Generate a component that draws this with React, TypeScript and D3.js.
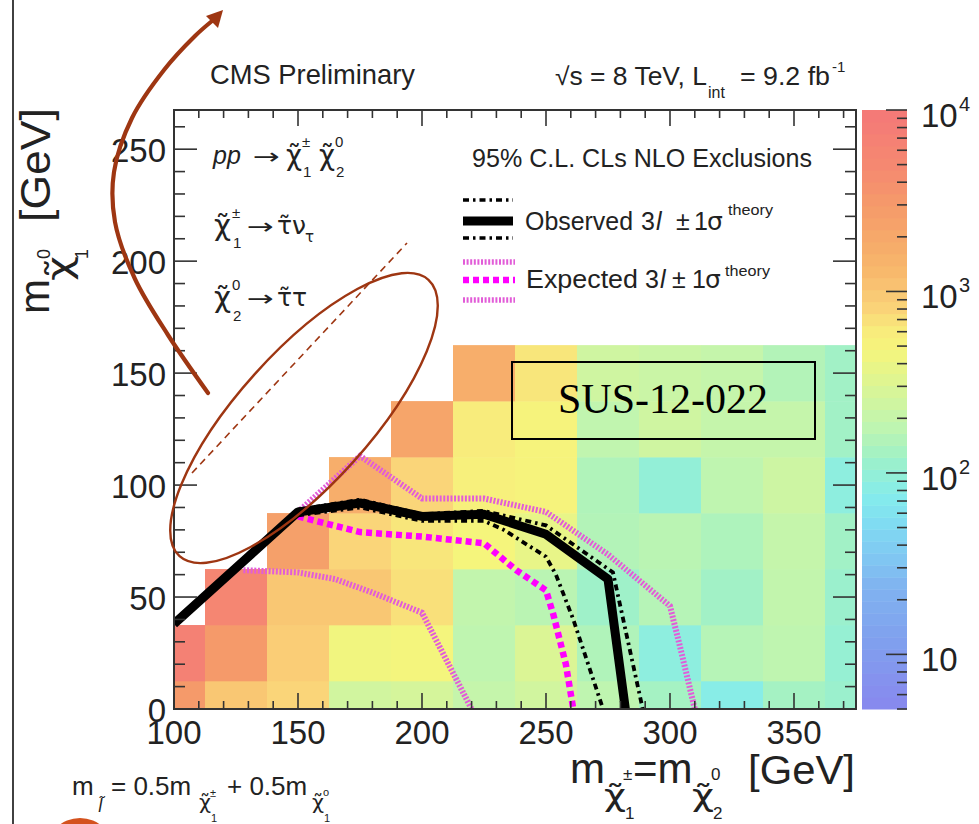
import React from "react";
import * as d3 from "d3";

// ---------------- data ----------------
const xBins = [100, 125, 150, 175, 200, 225, 250, 275, 300, 325, 350, 375];
const yBins = [0, 25, 50, 75, 100, 125, 150];
const binWidth = 25;
const xDomain = [100, 375];
const yDomain = [0, 267.5];
const zDomain = [5, 10000];

// heat-map values (one row per y bin, one entry per x bin, null = empty)
const rowY0 = [3000, 1000, 800, 250, 270, 200, 250, 180, 130, 80, 130, 115];
const rowY25 = [7000, 3000, 900, 450, 470, 180, 300, 150, 90, 160, 180, 105];
const rowY50 = [null, 5500, 1000, 1000, 700, 190, 170, 120, 160, 125, 190, 115];
const rowY75 = [null, null, 2500, 800, 650, 480, 380, 155, 170, 145, 200, 125];
const rowY100 = [null, null, null, 1700, 800, 550, 500, 150, 100, 180, 230, 90];
const rowY125 = [null, null, null, null, 2200, 600, 500, 185, 240, 200, 200, 125];
const rowY150 = [null, null, null, null, null, 1700, 650, 240, 220, 200, 155, 125];
const cellRows = [rowY0, rowY25, rowY50, rowY75, rowY100, rowY125, rowY150];

// exclusion contours [m_chargino, m_LSP]
const observed = [[100, 38], [150, 88], [175, 92], [200, 86], [225, 87], [250, 78], [275, 58], [282, 0]];
const observedUp = [[150, 89], [175, 93.5], [200, 87], [225, 88.5], [250, 82], [277, 61], [289, 0]];
const observedDown = [[150, 86.5], [175, 90], [200, 84], [225, 84], [233, 80], [250, 68], [254, 60], [261, 40], [273, 0]];
const expected = [[150, 86], [175, 79], [200, 77], [225, 74], [238, 62], [250, 53], [253, 42], [258, 20], [261, 0]];
const expectedUp = [[150, 88], [175, 113], [200, 94], [225, 94], [250, 88], [275, 69], [300, 46], [304, 28], [310, 0]];
const expectedDown = [[128, 62], [150, 61], [165, 58], [180, 52], [200, 43], [220, 0]];

const xTicks = [100, 150, 200, 250, 300, 350];
const yTicks = [0, 50, 100, 150, 200, 250];
const zTicks = [10, 100, 1000, 10000];
const zTickExp = ["", "2", "3", "4"];

const paletteValues = [5, 12, 24, 35, 53, 75, 110, 135, 180, 245, 330, 480, 600, 850, 1300, 1900, 3000, 4700, 10000];
const paletteColors = ["#8888ee", "#80a0ee", "#80b4f0", "#80c8f2", "#80dcf2", "#85ecec", "#98f0d0", "#a8f2c0", "#bff5b0", "#d0f5a0", "#e0f590", "#f5f57c", "#f8ec7c", "#fad078", "#f8b86c", "#f6aa6a", "#f59a6a", "#f58a70", "#f47878"];

// ---------------- layout ----------------
const W = 979, H = 824;
const P = { left: 174, right: 856, top: 110, bottom: 709 };
const CB = { left: 862, right: 907 };
const SANS = "'Liberation Sans', Arial, Helvetica, sans-serif";
const DJ = "'DejaVu Sans', 'Liberation Sans', sans-serif";
const SERIF = "'Liberation Serif', 'Times New Roman', serif";
const TXT = "#222";
const AXIS = "#333";
const ANNO = "#9e3612";
const CHI = "\u03C7\u0303";
const TAU = "\u03C4\u0303";

const xScale = d3.scaleLinear().domain(xDomain).range([P.left, P.right]);
const yScale = d3.scaleLinear().domain(yDomain).range([P.bottom, P.top]);
const zScale = d3.scaleLog().domain(zDomain).range([P.bottom, P.top]);
const color = d3.scaleLog<string>().domain(paletteValues).range(paletteColors).interpolate(d3.interpolateRgb).clamp(true);

const line = d3.line<number[]>().x(d => xScale(d[0])).y(d => yScale(d[1]));

type TP = { x: number; y: number; size: number; children: React.ReactNode; anchor?: string; italic?: boolean; family?: string; len?: number; fill?: string };
const T = ({ x, y, size, children, anchor, italic, family, len, fill }: TP) => (
  <text x={x} y={y} fontSize={size} textAnchor={anchor as any} fontStyle={italic ? "italic" : undefined}
    fontFamily={family || SANS} textLength={len} lengthAdjust={len ? "spacingAndGlyphs" : undefined} fill={fill || TXT}>
    {children}
  </text>
);

export default function App() {
  const cells: { x: number; y: number; w: number; h: number; c: string }[] = [];
  cellRows.forEach((row, ri) => {
    row.forEach((v, ci) => {
      if (v == null) return;
      const xc = xBins[ci], yc = yBins[ri];
      const x0 = Math.max(xDomain[0], xc - binWidth / 2), x1 = Math.min(xDomain[1], xc + binWidth / 2);
      const y0 = Math.max(yDomain[0], yc - binWidth / 2), y1 = Math.min(yDomain[1], yc + binWidth / 2);
      cells.push({ x: xScale(x0), y: yScale(y1), w: xScale(x1) - xScale(x0), h: yScale(y0) - yScale(y1), c: color(v) });
    });
  });

  // colour bar bands
  const nb = 50;
  const lz0 = Math.log10(zDomain[0]), lz1 = Math.log10(zDomain[1]);
  const bands = d3.range(nb).map(i => {
    const a = Math.pow(10, lz0 + (i / nb) * (lz1 - lz0));
    const b = Math.pow(10, lz0 + ((i + 1) / nb) * (lz1 - lz0));
    const m = Math.pow(10, lz0 + ((i + 0.5) / nb) * (lz1 - lz0));
    return { y: zScale(b), h: zScale(a) - zScale(b) + 0.5, c: color(m) };
  });
  const zMinor: { v: number; major: boolean }[] = [];
  for (let d = 0; d <= 4; d++) for (let m = 1; m <= 9; m++) {
    const v = m * Math.pow(10, d);
    if (v >= zDomain[0] && v <= zDomain[1]) zMinor.push({ v, major: m === 1 });
  }

  const xMinor = d3.range(110, 375, 10).filter(v => v % 50 !== 0);
  const yMinor = d3.range(10, 267, 10).filter(v => v % 50 !== 0);

  const arrowPts: [number, number][] = [[208, 393], [168, 335], [135, 279], [115, 222], [114, 172], [132, 118], [164, 70], [195, 36], [212, 21]];
  const arrowPath = d3.line().curve(d3.curveCatmullRom.alpha(0.5))(arrowPts) || "";

  return (
    <svg width={W} height={H} viewBox={`0 0 ${W} ${H}`} style={{ position: "absolute", left: 0, top: 0, background: "#fff" }}>
      <defs>
        <clipPath id="frame"><rect x={P.left} y={P.top} width={P.right - P.left} height={P.bottom - P.top} /></clipPath>
      </defs>
      <rect x={0} y={0} width={W} height={H} fill="#fff" />
      <line x1={13} y1={0} x2={13} y2={H} stroke="#111" strokeWidth={1.6} />

      {/* heat map */}
      <g>
        {cells.map((c, i) => <rect key={i} x={c.x} y={c.y} width={c.w + 0.3} height={c.h + 0.3} fill={c.c} />)}
      </g>

      {/* colour bar */}
      <g>
        {bands.map((b, i) => <rect key={i} x={CB.left} y={b.y} width={CB.right - CB.left} height={b.h} fill={b.c} />)}
        {zMinor.map((t, i) => (
          <line key={i} x1={CB.right} x2={CB.right - (t.major ? 21 : 10)} y1={zScale(t.v)} y2={zScale(t.v)} stroke={AXIS} strokeWidth={1.6} />
        ))}
        {zTicks.map((v, i) => (
          <g key={v}>
            <T x={921} y={zScale(v) + 17} size={33}>10</T>
            {zTickExp[i] && <T x={959} y={zScale(v) + 1} size={20}>{zTickExp[i]}</T>}
          </g>
        ))}
      </g>

      {/* contours */}
      <g clipPath="url(#frame)" fill="none">
        <path d={line(expectedUp as any) || ""} stroke="#e25cd8" strokeWidth={6} strokeDasharray="2 1.6" />
        <path d={line(expectedDown as any) || ""} stroke="#e25cd8" strokeWidth={6} strokeDasharray="2 1.6" />
        <path d={line(expected as any) || ""} stroke="#ff00ff" strokeWidth={6.5} strokeDasharray="6 4" />
        <path d={line(observedUp as any) || ""} stroke="#000" strokeWidth={3.8} strokeDasharray="6 4 2.5 4" />
        <path d={line(observedDown as any) || ""} stroke="#000" strokeWidth={3.8} strokeDasharray="6 4 2.5 4" />
        <path d={line(observed as any) || ""} stroke="#000" strokeWidth={9} strokeLinejoin="round" />
      </g>

      {/* frame and ticks */}
      <g stroke={AXIS} strokeWidth={1.6}>
        <rect x={P.left} y={P.top} width={P.right - P.left} height={P.bottom - P.top} fill="none" strokeWidth={2} />
        {xTicks.map(v => (
          <g key={"xt" + v}>
            <line x1={xScale(v)} x2={xScale(v)} y1={P.bottom} y2={P.bottom - 16} />
            <line x1={xScale(v)} x2={xScale(v)} y1={P.top} y2={P.top + 16} />
          </g>
        ))}
        {xMinor.map(v => (
          <g key={"xm" + v}>
            <line x1={xScale(v)} x2={xScale(v)} y1={P.bottom} y2={P.bottom - 8} />
            <line x1={xScale(v)} x2={xScale(v)} y1={P.top} y2={P.top + 8} />
          </g>
        ))}
        {yTicks.map(v => (
          <g key={"yt" + v}>
            <line x1={P.left} x2={P.left + 23} y1={yScale(v)} y2={yScale(v)} />
            <line x1={P.right} x2={P.right - 23} y1={yScale(v)} y2={yScale(v)} />
          </g>
        ))}
        {yMinor.map(v => (
          <g key={"ym" + v}>
            <line x1={P.left} x2={P.left + 11} y1={yScale(v)} y2={yScale(v)} />
            <line x1={P.right} x2={P.right - 11} y1={yScale(v)} y2={yScale(v)} />
          </g>
        ))}
      </g>

      {/* tick labels */}
      {xTicks.map(v => <T key={"xl" + v} x={xScale(v)} y={744} size={33} anchor="middle">{v}</T>)}
      {yTicks.map(v => <T key={"yl" + v} x={166} y={yScale(v) + 13} size={33} anchor="end">{v}</T>)}

      {/* axis titles */}
      <g>
        <T x={570} y={783} size={42}>m</T>
        <T x={604} y={806} size={30} family={DJ} len={22}>{CHI}</T>
        <T x={623} y={780} size={17}>±</T>
        <T x={625} y={819} size={17}>1</T>
        <T x={633} y={783} size={42}>=m</T>
        <T x={692} y={806} size={30} family={DJ} len={22}>{CHI}</T>
        <T x={711} y={780} size={17}>0</T>
        <T x={713} y={819} size={17}>2</T>
        <T x={748} y={784} size={40} len={107}>[GeV]</T>
      </g>
      <g transform="rotate(-90)">
        <T x={-314} y={49} size={42}>m</T>
        <T x={-281} y={71} size={34} family={DJ} len={25}>{CHI}</T>
        <T x={-259} y={50} size={18}>0</T>
        <T x={-259} y={88} size={18}>1</T>
        <T x={-222} y={50} size={42} len={114}>[GeV]</T>
      </g>

      {/* header */}
      <T x={210} y={84} size={28} len={205}>CMS Preliminary</T>
      <T x={555} y={85} size={25} len={152}>√s = 8 TeV, L</T>
      <T x={708} y={98} size={16}>int</T>
      <T x={740} y={85} size={25} len={90}>= 9.2 fb</T>
      <T x={832} y={72} size={15}>-1</T>

      {/* process text */}
      <T x={213} y={164} size={25} italic>pp</T>
      <T x={253} y={164} size={22} family={DJ} len={27}>→</T>
      <T x={286} y={165} size={28} family={DJ} len={16}>{CHI}</T>
      <T x={302} y={147} size={15}>±</T>
      <T x={303} y={177} size={15}>1</T>
      <T x={319} y={165} size={28} family={DJ} len={16}>{CHI}</T>
      <T x={335} y={147} size={15}>0</T>
      <T x={336} y={177} size={15}>2</T>

      <T x={214} y={235} size={28} family={DJ} len={17}>{CHI}</T>
      <T x={232} y={218} size={15}>±</T>
      <T x={233} y={248} size={15}>1</T>
      <T x={247} y={234} size={22} family={DJ} len={27}>→</T>
      <T x={277} y={234} size={25} family={DJ}>{TAU + "\u03BD"}</T>
      <T x={305} y={242} size={15} family={DJ}>τ</T>

      <T x={214} y={307} size={28} family={DJ} len={17}>{CHI}</T>
      <T x={232} y={290} size={15}>0</T>
      <T x={233} y={321} size={15}>2</T>
      <T x={247} y={306} size={22} family={DJ} len={27}>→</T>
      <T x={277} y={306} size={25} family={DJ}>{TAU + "\u03C4"}</T>

      {/* legend */}
      <T x={472} y={167} size={25} len={340}>95% C.L. CLs NLO Exclusions</T>
      <g fill="none">
        <line x1={463} x2={513} y1={200} y2={200} stroke="#000" strokeWidth={3.5} strokeDasharray="6 4 2.5 4" />
        <line x1={463} x2={513} y1={221} y2={221} stroke="#000" strokeWidth={9} />
        <line x1={463} x2={513} y1={238} y2={238} stroke="#000" strokeWidth={3.5} strokeDasharray="6 4 2.5 4" />
        <line x1={463} x2={515} y1={262} y2={262} stroke="#e25cd8" strokeWidth={5.5} strokeDasharray="2 1.6" />
        <line x1={463} x2={515} y1={280} y2={280} stroke="#ff00ff" strokeWidth={6.5} strokeDasharray="6 4" />
        <line x1={463} x2={515} y1={300} y2={300} stroke="#e25cd8" strokeWidth={5.5} strokeDasharray="2 1.6" />
      </g>
      <T x={525} y={230} size={25} len={108}>Observed</T>
      <T x={641} y={230} size={25}>3</T>
      <T x={656} y={230} size={25} italic>l</T>
      <T x={676} y={230} size={25}>±</T>
      <T x={694} y={230} size={25}>1</T>
      <T x={707} y={230} size={25} family={DJ}>σ</T>
      <T x={728} y={215} size={15} len={45}>theory</T>
      <T x={526} y={288} size={25} len={112}>Expected</T>
      <T x={645} y={288} size={25}>3</T>
      <T x={660} y={288} size={25} italic>l</T>
      <T x={672} y={288} size={25}>±</T>
      <T x={692} y={288} size={25}>1</T>
      <T x={705} y={288} size={25} family={DJ}>σ</T>
      <T x={725} y={276} size={15} len={45}>theory</T>

      {/* SUS box */}
      <rect x={512} y={362} width={303} height={77} fill="none" stroke="#000" strokeWidth={2} />
      <T x={663} y={413} size={42} anchor="middle" family={SERIF} fill="#000">SUS-12-022</T>

      {/* bottom formula */}
      <T x={72} y={795} size={26}>m</T>
      <T x={98} y={812} size={17} italic family={DJ}>{"l\u0303"}</T>
      <T x={111} y={795} size={26}>= 0.5m</T>
      <T x={199} y={809} size={19} family={DJ} len={12}>{CHI}</T>
      <T x={210} y={797} size={11}>±</T>
      <T x={211} y={822} size={11}>1</T>
      <T x={227} y={795} size={26}>+ 0.5m</T>
      <T x={312} y={809} size={19} family={DJ} len={12}>{CHI}</T>
      <T x={323} y={796} size={11}>o</T>
      <T x={324} y={822} size={11}>1</T>

      {/* hand-drawn annotations */}
      <g fill="none" stroke={ANNO}>
        <path d={arrowPath} strokeWidth={4.2} strokeLinecap="round" />
        <ellipse cx={0} cy={0} rx={186} ry={66} transform="translate(304,418) rotate(-48)" strokeWidth={2.4} />
        <line x1={192} y1={473} x2={407} y2={243} strokeWidth={1.6} strokeDasharray="7 5" />
      </g>
      <polygon points="223,10 206,16 218,28" fill={ANNO} />
      <circle cx={80} cy={852} r={34} fill="#d4521e" />
    </svg>
  );
}
